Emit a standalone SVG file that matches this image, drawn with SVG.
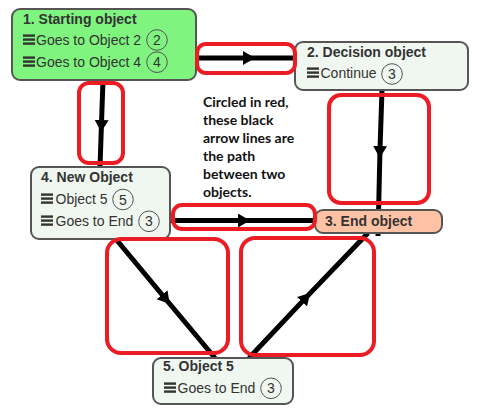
<svg xmlns="http://www.w3.org/2000/svg" xmlns:xlink="http://www.w3.org/1999/xlink" width="478" height="414" viewBox="0 0 478 414">
<style>
.node{stroke:#555;stroke-width:2}
.n1{fill:#7ff47f}
.nl{fill:#f0f7f0}
.n3{fill:#ffc2a5}
.title{font-family:"Liberation Sans",Arial,sans-serif;font-size:14px;font-weight:bold;fill:#333}
.row{font-family:"Liberation Sans",Arial,sans-serif;font-size:14px;fill:#333}
.num{font-family:"Liberation Sans",Arial,sans-serif;font-size:14px;fill:#333;text-anchor:middle}
.badge{fill:none;stroke:#555;stroke-width:1}
.edge{fill:none;stroke:#000;stroke-width:5;marker-mid:url(#arrow)}
.hl{fill:none;stroke:#ec1c24;stroke-width:4}
.note{font-family:Lato,"Liberation Sans",sans-serif;font-size:14px;font-weight:bold;fill:#111}
</style>
<defs>
<marker id="arrow" markerUnits="userSpaceOnUse" markerWidth="14" markerHeight="16" refX="3" refY="7" orient="auto">
<path d="M0,0 L12,7 L0,14 z" fill="#000"/>
</marker>
<g id="ham" fill="#333">
<rect x="0" y="-10.6" width="12" height="2.4"/>
<rect x="0" y="-6.6" width="12" height="2.4"/>
<rect x="0" y="-2.6" width="12" height="2.4"/>
</g>
</defs>
<g id="connectors">
<path class="edge" d="M196,58 L246,58 L295,58"/>
<path class="edge" d="M103,80 L101.5,123 L100,167"/>
<path class="edge" d="M382,90 L380,149 L378,236"/>
<path class="edge" d="M170,220.5 L241,220.5 L316,220.5"/>
<path class="edge" d="M115,238 L164,297 L215,358"/>
<path class="edge" d="M249,358 L304,299.6 L368,233"/>
</g>
<g id="node1">
<rect class="node n1" x="12" y="9" width="184" height="71" rx="8"/>
<text class="title" x="23" y="24">1. Starting object</text>
<use xlink:href="#ham" x="23" y="45"/>
<text class="row" x="36" y="45">Goes to Object 2</text>
<circle class="badge" cx="157" cy="40" r="10.3"/>
<text class="num" x="157" y="45">2</text>
<use xlink:href="#ham" x="23" y="67"/>
<text class="row" x="36" y="67">Goes to Object 4</text>
<circle class="badge" cx="157" cy="62.2" r="10.3"/>
<text class="num" x="157" y="67">4</text>
</g>
<g id="node2">
<rect class="node nl" x="295" y="42" width="173" height="48" rx="8"/>
<text class="title" x="307" y="57">2. Decision object</text>
<use xlink:href="#ham" x="307" y="78"/>
<text class="row" x="320.5" y="78">Continue</text>
<circle class="badge" cx="392" cy="74" r="10.3"/>
<text class="num" x="392" y="79">3</text>
</g>
<g id="node4">
<rect class="node nl" x="31" y="167" width="139" height="72" rx="8"/>
<text class="title" x="41" y="182">4. New Object</text>
<use xlink:href="#ham" x="41" y="204"/>
<text class="row" x="55.5" y="204">Object 5</text>
<circle class="badge" cx="123" cy="199.5" r="10.3"/>
<text class="num" x="123" y="204.5">5</text>
<use xlink:href="#ham" x="41" y="226"/>
<text class="row" x="55.5" y="226">Goes to End</text>
<circle class="badge" cx="149" cy="221.3" r="10.3"/>
<text class="num" x="149" y="226.3">3</text>
</g>
<g id="node3">
<rect class="node n3" x="315" y="210" width="127" height="23" rx="8"/>
<text class="title" x="325" y="225.5">3. End object</text>
</g>
<g id="node5">
<rect class="node nl" x="153" y="358" width="140" height="46" rx="8"/>
<text class="title" x="163" y="371">5. Object 5</text>
<use xlink:href="#ham" x="164" y="393"/>
<text class="row" x="177.5" y="393">Goes to End</text>
<circle class="badge" cx="271" cy="388.3" r="10.3"/>
<text class="num" x="271" y="393.3">3</text>
</g>
<g id="highlights">
<rect class="hl" x="197" y="44" width="98" height="29" rx="9"/>
<rect class="hl" x="79" y="83" width="44" height="80" rx="10"/>
<rect class="hl" x="329" y="95" width="100" height="108" rx="12"/>
<rect class="hl" x="173" y="205" width="142" height="24" rx="9"/>
<rect class="hl" x="107" y="239" width="121" height="114" rx="14"/>
<rect class="hl" x="241" y="238" width="133" height="117" rx="14"/>
</g>
<g id="note">
<text class="note" x="203" y="107">Circled in red,</text>
<text class="note" x="203" y="125">these black</text>
<text class="note" x="203" y="143">arrow lines are</text>
<text class="note" x="203" y="161">the path</text>
<text class="note" x="203" y="179">between two</text>
<text class="note" x="203" y="196.5">objects.</text>
</g>
</svg>
